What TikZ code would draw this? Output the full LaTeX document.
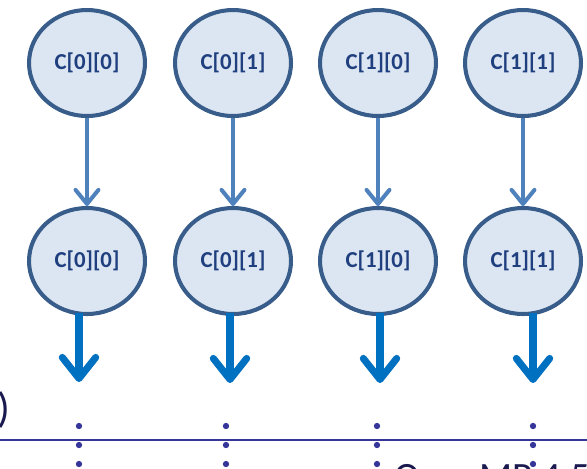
\documentclass[tikz,border=0pt]{standalone}
\usepackage{fontspec}
\setmainfont{Carlito}
\usetikzlibrary{arrows.meta,shapes.geometric,shadows}
\definecolor{cellfill}{HTML}{DCE6F2}
\definecolor{celldraw}{HTML}{385D8A}
\definecolor{celltext}{HTML}{1F3F7F}
\definecolor{thinblue}{HTML}{4F81BD}
\definecolor{thickblue}{HTML}{0070C0}
\definecolor{rulecol}{HTML}{35359A}
\definecolor{inkcol}{HTML}{1A1A50}
\tikzset{
  cell/.style={ellipse, draw=celldraw, line width=2.3pt, fill=cellfill,
    minimum width=2.32cm, minimum height=2.12cm, inner sep=0pt,
    text=celltext, font=\fontsize{13}{15}\selectfont\bfseries,
    drop shadow={opacity=0.25, shadow xshift=0.6pt, shadow yshift=-0.8pt}},
  flow/.style={draw=thinblue, line width=2.3pt,
    -{Straight Barb[round, length=8pt, width=13pt]}},
  outflow/.style={draw=thickblue, line width=4pt,
    -{Straight Barb[round, length=12pt, width=19pt]}},
  vdot/.style={circle, fill=rulecol, inner sep=0pt, minimum size=3.6pt}
}
\begin{document}
\begin{tikzpicture}[x=0.02cm, y=-0.02cm]
\useasboundingbox (0,0) rectangle (587,468);
\clip (0,0) rectangle (587,468);
% cells
\node[cell] (t1) at (87,63)  {C[0][0]};
\node[cell] (t2) at (233,63) {C[0][1]};
\node[cell] (t3) at (378,63) {C[1][0]};
\node[cell] (t4) at (523,63) {C[1][1]};
\node[cell] (b1) at (87,261)  {C[0][0]};
\node[cell] (b2) at (233,261) {C[0][1]};
\node[cell] (b3) at (378,261) {C[1][0]};
\node[cell] (b4) at (523,261) {C[1][1]};
% arrows
\foreach \i in {1,...,4}
  \draw[flow] (t\i) -- (b\i);
\coordinate (s1) at (79,313);  \coordinate (e1) at (79,382);
\coordinate (s2) at (230,313); \coordinate (e2) at (230,383);
\coordinate (s3) at (380,313); \coordinate (e3) at (380,383);
\coordinate (s4) at (533,313); \coordinate (e4) at (533,383);
\foreach \i in {1,...,4}
  \draw[outflow] (s\i) -- (e\i);
% rule
\coordinate (rl) at (0,440);
\coordinate (rr) at (587,440);
\draw[rulecol, line width=1.2pt] (rl) -- (rr);
% dots
\foreach \x [count=\k] in {79,226,377,533}
  \foreach \y [count=\j] in {426,445,464}
    \node[vdot] (d\k\j) at (\x,\y) {};
% text
\node[anchor=east, inner sep=0pt, text=inkcol, font=\fontsize{24}{26}\selectfont] (par) at (11,410) {)};
\node[anchor=base west, inner sep=0pt, text=inkcol, font=\fontsize{22}{26}\selectfont] (ttl) at (394,489) {OpenMP 4.5};
\end{tikzpicture}
\end{document}
